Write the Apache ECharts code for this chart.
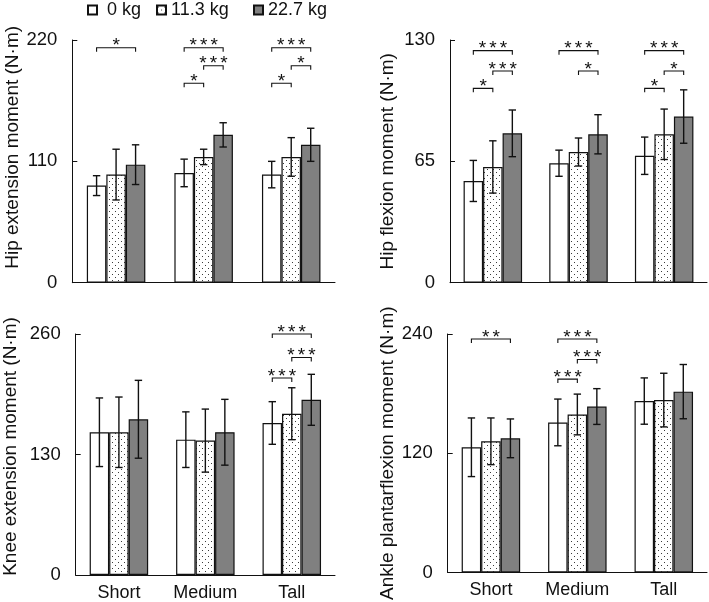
<!DOCTYPE html>
<html>
<head>
<meta charset="utf-8">
<script src="https://cdn.jsdelivr.net/npm/echarts@6/dist/echarts.min.js"></script>
<style>
html,body{margin:0;padding:0;background:#fff;}
#chart{width:709px;height:602px;}
</style>
</head>
<body>
<div id="chart"></div>
<script>
// ---------- data ----------
const categories = ['Short', 'Medium', 'Tall'];
const loads = ['0 kg', '11.3 kg', '22.7 kg'];

// Hip extension moment (N·m)
const hipExtMean0 = [88, 99.5, 98];
const hipExtMean11 = [98, 114, 114];
const hipExtMean22 = [107, 134, 125];
const hipExtSd0 = [9, 12.5, 12];
const hipExtSd11 = [23, 7, 17.5];
const hipExtSd22 = [18, 11, 15];
const hipExtTicks = [0, 110, 220];
// [category, fromLoad, toLoad, bracket level, label]
const hipExtSig = [
  [0, 0, 2, 213, '*'],
  [1, 0, 2, 213, '***'], [1, 1, 2, 196.7, '***'], [1, 0, 1, 180.8, '*'],
  [2, 0, 2, 213, '***'], [2, 1, 2, 196.7, '*'], [2, 0, 1, 180.8, '*']
];

// Hip flexion moment (N·m)
const hipFlexMean0 = [54.5, 64, 68];
const hipFlexMean11 = [62, 70, 79.5];
const hipFlexMean22 = [80, 79.5, 89];
const hipFlexSd0 = [11, 7, 10];
const hipFlexSd11 = [14, 7.5, 13.5];
const hipFlexSd22 = [12.5, 10.5, 14.3];
const hipFlexTicks = [0, 65, 130];
const hipFlexSig = [
  [0, 0, 2, 124.3, '***'], [0, 1, 2, 113.4, '***'], [0, 0, 1, 104.1, '*'],
  [1, 0, 2, 124.3, '***'], [1, 1, 2, 113.4, '*'],
  [2, 0, 2, 124.3, '***'], [2, 1, 2, 113.4, '*'], [2, 0, 1, 104.1, '*']
];

// Knee extension moment (N·m)
const kneeExtMean0 = [154, 146, 164];
const kneeExtMean11 = [154, 145, 174];
const kneeExtMean22 = [168, 154, 189];
const kneeExtSd0 = [37, 30, 23];
const kneeExtSd11 = [38, 34, 28];
const kneeExtSd22 = [42, 35.5, 27.5];
const kneeExtTicks = [0, 130, 260];
const kneeExtSig = [
  [2, 0, 2, 260, '***'], [2, 1, 2, 234.6, '***'], [2, 0, 1, 212.5, '***']
];

// Ankle plantarflexion moment (N·m)
const anklePfMean0 = [126, 151, 172.5];
const anklePfMean11 = [132, 159, 173.5];
const anklePfMean22 = [135, 167, 182];
const anklePfSd0 = [29.5, 23.5, 23.3];
const anklePfSd11 = [23.5, 20.5, 27];
const anklePfSd22 = [19.5, 18, 27.3];
const anklePfTicks = [0, 120, 240];
const anklePfSig = [
  [0, 0, 2, 235, '**'],
  [1, 0, 2, 235, '***'], [1, 1, 2, 214.3, '***'], [1, 0, 1, 194.6, '***']
];

const yTitles = ['Hip extension moment (N·m)', 'Hip flexion moment (N·m)',
                 'Knee extension moment (N·m)', 'Ankle plantarflexion moment (N·m)'];

// ---------- styling / layout ----------
const FONT = '"Liberation Sans", Arial, Helvetica, sans-serif';
const INK = '#111';
const BW = 19.5;
const STAR_STEP = 10.5;

function dotPattern() {
  const c = document.createElement('canvas');
  c.width = 6; c.height = 6;
  const ctx = c.getContext('2d');
  ctx.fillStyle = '#fff';
  ctx.fillRect(0, 0, 6, 6);
  ctx.fillStyle = '#3a3a3a';
  ctx.fillRect(1, 1, 1, 1);
  ctx.fillRect(4, 4, 1, 1);
  return c;
}
const fills = ['#ffffff', { image: dotPattern(), repeat: 'repeat' }, '#808080'];

const panels = [
  { means: [hipExtMean0, hipExtMean11, hipExtMean22], sds: [hipExtSd0, hipExtSd11, hipExtSd22], ticks: hipExtTicks, sig: hipExtSig,
    grid: { left: 72.3, top: 40, width: 262.7, height: 242.7 }, nameGap: 46, namePad: 28 },
  { means: [hipFlexMean0, hipFlexMean11, hipFlexMean22], sds: [hipFlexSd0, hipFlexSd11, hipFlexSd22], ticks: hipFlexTicks, sig: hipFlexSig,
    grid: { left: 450, top: 40, width: 257, height: 242.7 }, nameGap: 53, namePad: 0 },
  { means: [kneeExtMean0, kneeExtMean11, kneeExtMean22], sds: [kneeExtSd0, kneeExtSd11, kneeExtSd22], ticks: kneeExtTicks, sig: kneeExtSig,
    grid: { left: 75.7, top: 334, width: 259.3, height: 242.7 }, nameGap: 55, namePad: 16 },
  { means: [anklePfMean0, anklePfMean11, anklePfMean22], sds: [anklePfSd0, anklePfSd11, anklePfSd22], ticks: anklePfTicks, sig: anklePfSig,
    grid: { left: 447.7, top: 334, width: 259.3, height: 243.3 }, nameGap: 50, namePad: 0 }
];

const option = {
  animation: false,
  backgroundColor: '#fff',
  textStyle: { fontFamily: FONT },
  legend: loads.map((name, i) => ({
    data: [name],
    left: [87, 156, 253][i],
    top: 1,
    padding: 0,
    itemWidth: 9,
    itemHeight: 9,
    icon: 'rect',
    formatter: n => (i === 0 ? ' ' + n : n),
    textStyle: { fontFamily: FONT, fontSize: 18, color: INK },
    selectedMode: false
  })),
  grid: panels.map(p => Object.assign({ containLabel: false }, p.grid)),
  xAxis: panels.map((p, i) => ({
    type: 'category',
    gridIndex: i,
    data: categories,
    axisLine: { lineStyle: { color: INK, width: 1 } },
    axisTick: { show: false },
    axisLabel: { show: i >= 2, fontFamily: FONT, fontSize: 18, color: INK, margin: 9 }
  })),
  yAxis: panels.map((p, i) => ({
    type: 'value',
    gridIndex: i,
    min: p.ticks[0],
    max: p.ticks[2],
    interval: p.ticks[1] - p.ticks[0],
    axisLine: { show: true, lineStyle: { color: INK, width: 1 } },
    axisTick: { show: true, inside: true, length: 5, lineStyle: { color: INK } },
    splitLine: { show: false },
    axisLabel: { fontFamily: FONT, fontSize: 18.5, color: INK, margin: 15 },
    name: yTitles[i],
    nameLocation: 'middle',
    nameRotate: 90,
    nameGap: p.nameGap,
    nameTextStyle: { fontFamily: FONT, fontSize: 19, color: INK, padding: [0, 0, 0, p.namePad] }
  })),
  series: []
};

panels.forEach((p, pi) => {
  loads.forEach((name, li) => {
    option.series.push({
      type: 'bar',
      name: name,
      xAxisIndex: pi,
      yAxisIndex: pi,
      data: p.means[li],
      barWidth: BW,
      barGap: '0%',
      itemStyle: { color: fills[li], borderColor: INK, borderWidth: 1.2 },
      emphasis: { disabled: true }
    });
  });
  // error bars
  const errData = [];
  loads.forEach((name, li) => {
    p.means[li].forEach((m, ci) => errData.push([ci, li, m, p.sds[li][ci]]));
  });
  option.series.push({
    type: 'custom',
    xAxisIndex: pi,
    yAxisIndex: pi,
    data: errData,
    encode: { x: 0, y: 2 },
    z: 5,
    renderItem: function (params, api) {
      const ci = api.value(0), li = api.value(1), m = api.value(2), sd = api.value(3);
      const base = api.coord([ci, m]);
      const x = base[0] + (li - 1) * BW;
      const yt = api.coord([ci, m + sd])[1];
      const yb = api.coord([ci, m - sd])[1];
      const st = { stroke: INK, lineWidth: 1.4 };
      const cw = 3.7;
      return { type: 'group', children: [
        { type: 'line', shape: { x1: x, y1: yt, x2: x, y2: yb }, style: st },
        { type: 'line', shape: { x1: x - cw, y1: yt, x2: x + cw, y2: yt }, style: st },
        { type: 'line', shape: { x1: x - cw, y1: yb, x2: x + cw, y2: yb }, style: st }
      ] };
    }
  });
  // significance brackets
  option.series.push({
    type: 'custom',
    xAxisIndex: pi,
    yAxisIndex: pi,
    data: p.sig,
    encode: { x: 0, y: 3 },
    z: 6,
    clip: false,
    renderItem: function (params, api) {
      const s = p.sig[params.dataIndex];
      const base = api.coord([s[0], s[3]]);
      const y = base[1];
      const x1 = base[0] + (s[1] - 1) * BW;
      const x2 = base[0] + (s[2] - 1) * BW;
      const xm = (x1 + x2) / 2;
      const chars = s[4].split('');
      const children = [
        { type: 'polyline', shape: { points: [[x1, y + 4], [x1, y], [x2, y], [x2, y + 4]] },
          style: { stroke: INK, lineWidth: 1.1, fill: null } }
      ];
      chars.forEach((ch, k) => {
        children.push({ type: 'text', x: xm + (k - (chars.length - 1) / 2) * STAR_STEP, y: y - 1.5,
          style: { text: ch, font: '19px ' + FONT, fill: INK,
                   textAlign: 'center', textVerticalAlign: 'middle' } });
      });
      return { type: 'group', children: children };
    }
  });
});

const chart = echarts.init(document.getElementById('chart'), null, { renderer: 'canvas' });
chart.setOption(option);
</script>
</body>
</html>
